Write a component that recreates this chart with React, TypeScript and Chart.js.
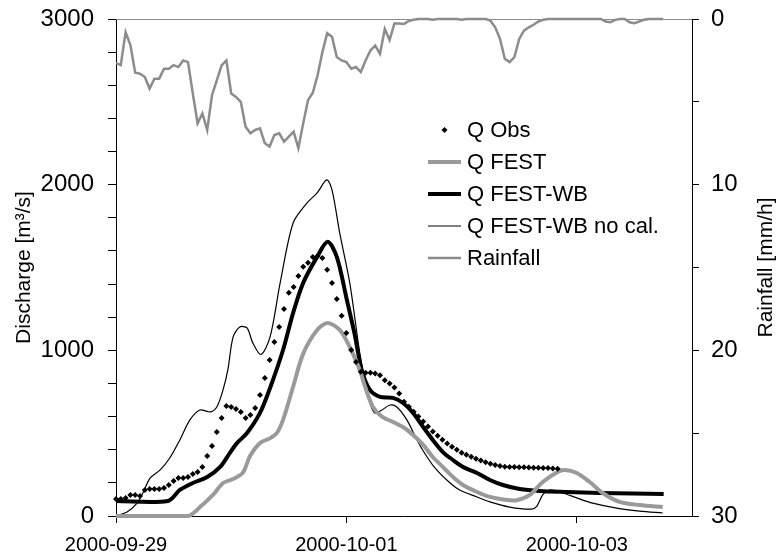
import React, { useEffect, useRef } from "react";
import { Chart, registerables } from "chart.js";

Chart.register(...registerables);

const FONT = '"Liberation Sans", Arial, Helvetica, sans-serif';

// x axis: hours since 2000-09-29 00:00
const xTickHours = [0, 48, 96];
const xTickLabels = ["2000-09-29", "2000-10-01", "2000-10-03"];
const qTickLabelValues = [0, 1000, 2000, 3000];
const rainTickLabelValues = [0, 10, 20, 30];

// Q Obs, hourly from hour 0
const qObs = [
  103, 103, 109, 127, 127, 121, 157, 163, 163, 163,
  169, 187, 211, 229, 229, 236, 254, 266, 296, 362,
  423, 507, 592, 664, 658, 646, 628, 592, 610, 652,
  731, 833, 942, 1051, 1141, 1250, 1347, 1383, 1449, 1504,
  1528, 1564, 1570, 1558, 1486, 1407, 1310, 1208, 1105, 1002,
  930, 870, 865, 865, 860, 850, 820, 800, 775, 740,
  690, 660, 630, 600, 570, 540, 510, 485, 460, 437,
  418, 400, 382, 370, 358, 346, 335, 325, 316, 308,
  302, 298, 296, 296, 295, 294, 293, 292, 291, 290,
  289, 287, 285,
];

// Q FEST
const festHours = [
  0, 15.0, 17.5, 20.2, 22.3, 24.4, 26.4, 27.9, 30.0, 32.1,
  33.5, 34.8, 36.9, 39.0, 41.9, 44.1, 46.6, 48.7, 50.8, 51.9,
  53.5, 55.4, 57.7, 59.8, 61.9, 64.0, 66.0, 68.1, 70.2, 72.3,
  75.2, 77.9, 80.6, 83.5, 86.2, 88.9, 92.0, 93.5, 96.0, 98.7,
  101.4, 104.9, 109.1, 113.9,
];
const festQ = [
  0, 0, 54, 127, 199, 223, 260, 360, 440, 470,
  500, 580, 780, 980, 1123, 1165, 1123, 1020, 880, 780,
  660, 600, 568, 537, 489, 429, 356, 296, 235, 187,
  145, 115, 100, 95, 127, 205, 266, 278, 260, 205,
  139, 85, 66, 54,
];

// Q FEST-WB
const wbHours = [
  0, 10.8, 13.3, 16.0, 19.0, 21.7, 23.7, 25.2, 27.3, 30.0,
  32.1, 34.8, 36.9, 39.0, 41.9, 44.1, 46.0, 48.1, 49.7, 51.2,
  52.9, 55.0, 57.7, 59.8, 61.9, 64.0, 66.0, 68.1, 70.2, 72.3,
  75.2, 77.9, 80.6, 84.1, 88.3, 93.9, 100.8, 107.7, 114.1,
];
const wbQ = [
  91, 91, 157, 199, 235, 296, 380, 440, 501, 622,
  773, 1002, 1226, 1407, 1564, 1655, 1564, 1304, 1100, 880,
  761, 719, 713, 682, 622, 537, 459, 386, 338, 296,
  260, 217, 187, 163, 151, 145, 139, 136, 133,
];

// Q FEST-WB no cal.
const nocalHours = [
  0, 2.3, 4.4, 5.6, 7.1, 9.2, 11.2, 13.3, 15.4, 17.5,
  19.6, 21.0, 22.3, 23.3, 24.4, 25.8, 27.3, 28.5, 30.2, 32.1,
  34.2, 36.9, 39.8, 41.9, 43.9, 45.0, 46.6, 48.7, 50.8, 52.1,
  52.9, 53.9, 55.4, 57.1, 58.5, 60.6, 62.7, 64.8, 66.8, 69.6,
  71.6, 75.2, 77.9, 82.0, 86.6, 87.7, 88.9, 90.4, 93.1, 96.0,
  99.3, 104.3, 109.1, 113.9,
];
const nocalQ = [
  0, 24, 78, 139, 229, 278, 350, 459, 580, 640,
  628, 658, 761, 882, 1081, 1141, 1135, 1045, 975, 1081,
  1407, 1769, 1890, 1950, 2029, 1969, 1709, 1407, 980, 780,
  682, 622, 640, 670, 658, 580, 459, 356, 278, 199,
  157, 115, 85, 54, 42, 60, 127, 157, 139, 109,
  78, 48, 30, 18,
];

// Rainfall [mm/h], hourly from hour 0
const rainfall = [
  2.66, 2.78, 0.8, 1.57, 3.24, 3.3, 3.5, 4.2, 3.6, 3.6,
  3.0, 3.0, 2.78, 2.9, 2.5, 2.6, 4.5, 6.3, 5.7, 6.7,
  4.6, 3.7, 2.8, 2.5, 4.5, 4.7, 5.0, 6.5, 6.9, 6.7,
  6.6, 7.5, 7.7, 7.0, 6.9, 7.4, 7.1, 6.8, 7.8, 6.3,
  4.9, 4.45, 3.4, 2.0, 0.85, 1.07, 2.3, 2.5, 2.6, 3.0,
  2.9, 3.2, 2.5, 1.9, 1.6, 2.1, 0.6, 1.27, 0.27, 0.27,
  0.3, 0.12, 0.05, 0, 0, 0, 0.05, 0, 0, 0,
  0, 0, 0.05, 0, 0, 0, 0, 0, 0.1, 0.5,
  1.2, 2.4, 2.6, 2.3, 1.2, 0.7, 0.5, 0.35, 0.15, 0.05,
  0, 0, 0, 0, 0, 0, 0, 0, 0, 0,
  0, 0, 0.15, 0.2, 0.05, 0, 0, 0.2, 0.25, 0.15,
  0.05, 0, 0, 0, 0,
];

const pairs = (xs: number[], ys: number[]) => ys.map((y, i) => ({ x: xs[i], y }));
const hourly = (ys: number[]) => ys.map((y, i) => ({ x: i, y }));

const overlayPlugin = {
  id: "overlay",
  beforeDatasetsDraw(chart: any) {
    const { ctx, chartArea } = chart;
    ctx.save();
    ctx.strokeStyle = "#8c8c8c";
    ctx.lineWidth = 1;
    ctx.beginPath();
    ctx.moveTo(chartArea.left, chartArea.top + 0.5);
    ctx.lineTo(chartArea.right, chartArea.top + 0.5);
    ctx.stroke();
    ctx.restore();
  },
  afterDraw(chart: any) {
    const { ctx } = chart;
    ctx.save();
    const x0 = 428;
    const x1 = 461;
    const tx = 467;
    const y0 = 130;
    const dy = 32;
    chart.data.datasets.forEach((ds: any, i: number) => {
      const y = y0 + i * dy;
      if (ds.showLine === false) {
        const cx = (x0 + x1) / 2;
        const r = 3;
        ctx.fillStyle = ds.pointBackgroundColor;
        ctx.beginPath();
        ctx.moveTo(cx, y - r);
        ctx.lineTo(cx + r, y);
        ctx.lineTo(cx, y + r);
        ctx.lineTo(cx - r, y);
        ctx.closePath();
        ctx.fill();
      } else {
        ctx.strokeStyle = ds.borderColor;
        ctx.lineWidth = ds.borderWidth;
        ctx.beginPath();
        ctx.moveTo(x0, y);
        ctx.lineTo(x1, y);
        ctx.stroke();
      }
      ctx.fillStyle = "#000";
      ctx.font = `22px ${FONT}`;
      ctx.textAlign = "left";
      ctx.textBaseline = "middle";
      ctx.fillText(ds.label, tx, y + 1);
    });
    // right axis title (reads bottom-to-top)
    const a = chart.chartArea;
    ctx.translate(766, (a.top + a.bottom) / 2);
    ctx.rotate(-Math.PI / 2);
    ctx.textAlign = "center";
    ctx.textBaseline = "middle";
    ctx.font = `21px ${FONT}`;
    ctx.fillStyle = "#000";
    ctx.fillText("Rainfall [mm/h]", 0, 0);
    ctx.restore();
  },
};

export default function App() {
  const ref = useRef<HTMLCanvasElement | null>(null);

  useEffect(() => {
    if (!ref.current) return;
    const chart = new Chart(ref.current, {
      type: "line",
      data: {
        datasets: [
          {
            label: "Q Obs",
            data: hourly(qObs),
            showLine: false,
            pointStyle: "rectRot",
            pointRadius: 3,
            pointBackgroundColor: "#000",
            pointBorderWidth: 0,
            borderColor: "#000",
            backgroundColor: "#000",
            yAxisID: "y",
            clip: false,
          } as any,
          {
            label: "Q FEST",
            data: pairs(festHours, festQ),
            borderColor: "#9a9a9a",
            borderWidth: 4,
            pointRadius: 0,
            tension: 0.3,
            yAxisID: "y",
            clip: false,
          },
          {
            label: "Q FEST-WB",
            data: pairs(wbHours, wbQ),
            borderColor: "#000",
            borderWidth: 4,
            pointRadius: 0,
            tension: 0.3,
            yAxisID: "y",
            clip: false,
          },
          {
            label: "Q FEST-WB no cal.",
            data: pairs(nocalHours, nocalQ),
            borderColor: "#000",
            borderWidth: 1.2,
            pointRadius: 0,
            tension: 0.3,
            yAxisID: "y",
            clip: false,
          },
          {
            label: "Rainfall",
            data: hourly(rainfall),
            borderColor: "#8c8c8c",
            borderWidth: 2.5,
            pointRadius: 0,
            yAxisID: "y1",
            clip: false,
          },
        ],
      },
      options: {
        responsive: false,
        animation: false,
        layout: { padding: { top: 19, left: 0, right: 0, bottom: 0 } },
        plugins: {
          legend: { display: false },
          tooltip: { enabled: false },
        },
        scales: {
          x: {
            type: "linear",
            min: 0,
            max: 120,
            afterBuildTicks: (s: any) => {
              s.ticks = xTickHours.map((v) => ({ value: v }));
            },
            ticks: {
              callback: (v: any) => {
                const i = xTickHours.indexOf(Number(v));
                return i >= 0 ? xTickLabels[i] : "";
              },
              autoSkip: false,
              maxRotation: 0,
              color: "#000",
              padding: 10,
              font: { size: 20, family: FONT },
            },
            grid: { drawOnChartArea: false, drawTicks: true, tickLength: 7, color: "#000" },
            border: { display: true, color: "#000", width: 1 },
            afterFit: (s: any) => {
              s.height = 41;
              s.paddingLeft = 0;
              s.paddingRight = 0;
            },
          },
          y: {
            type: "linear",
            position: "left",
            min: 0,
            max: 3000,
            ticks: {
              stepSize: 200,
              callback: (v: any) => (qTickLabelValues.includes(Number(v)) ? String(v) : ""),
              color: "#000",
              padding: 14,
              font: { size: 24, family: FONT },
            },
            grid: { drawOnChartArea: false, drawTicks: true, tickLength: 8, color: "#000" },
            border: { display: true, color: "#000", width: 1 },
            title: {
              display: true,
              text: "Discharge [m³/s]",
              color: "#000",
              font: { size: 21, family: FONT },
              padding: { top: 12, bottom: 0 },
            },
            afterFit: (s: any) => {
              s.width = 116;
              s.paddingTop = 0;
              s.paddingBottom = 0;
            },
          },
          y1: {
            type: "linear",
            position: "right",
            reverse: true,
            min: 0,
            max: 30,
            ticks: {
              stepSize: 5,
              callback: (v: any) => (rainTickLabelValues.includes(Number(v)) ? String(v) : ""),
              color: "#000",
              padding: 12,
              font: { size: 24, family: FONT },
            },
            grid: { drawOnChartArea: false, drawTicks: true, tickLength: 7, color: "#000" },
            border: { display: true, color: "#000", width: 1 },
            afterFit: (s: any) => {
              s.width = 86;
              s.paddingTop = 0;
              s.paddingBottom = 0;
            },
          },
        },
      },
      plugins: [overlayPlugin],
    } as any);
    return () => chart.destroy();
  }, []);

  return (
    <div style={{ position: "absolute", left: 0, top: 0, width: 778, height: 557, background: "#fff" }}>
      <canvas ref={ref} width={778} height={557} style={{ width: 778, height: 557, display: "block" }} />
    </div>
  );
}
